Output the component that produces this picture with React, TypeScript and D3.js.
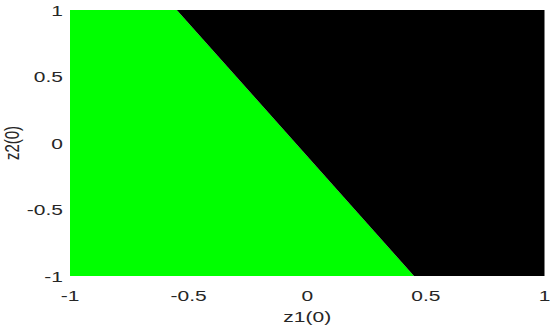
import React from "react";
import * as d3 from "d3";

const xTicks = [-1, -0.5, 0, 0.5, 1];
const yTicks = [-1, -0.5, 0, 0.5, 1];
const domainZ1 = [-1, 1];
const domainZ2 = [-1, 1];
// decision boundary endpoints (z1, z2)
const boundaryZ1 = [-0.55, 0.45];
const boundaryZ2 = [1, -1];
const xLabel = "z1(0)";
const yLabel = "z2(0)";

const W = 550;
const H = 330;
const M = { left: 70, right: 5.5, top: 10, bottom: 54 };
const SX = 1.4;
const FONT = "'Liberation Sans', Arial, sans-serif";
const TXT = "#262626";

export default function App() {
  const x = d3.scaleLinear().domain(domainZ1).range([M.left, W - M.right]);
  const y = d3.scaleLinear().domain(domainZ2).range([H - M.bottom, M.top]);
  const line = d3
    .line<[number, number]>()
    .x((d) => x(d[0]))
    .y((d) => y(d[1]));

  const greenPts: [number, number][] = [
    [domainZ1[0], domainZ2[1]],
    [boundaryZ1[0], boundaryZ2[0]],
    [boundaryZ1[1], boundaryZ2[1]],
    [domainZ1[0], domainZ2[0]],
  ];
  const blackPts: [number, number][] = [
    [boundaryZ1[0], boundaryZ2[0]],
    [domainZ1[1], domainZ2[1]],
    [domainZ1[1], domainZ2[0]],
    [boundaryZ1[1], boundaryZ2[1]],
  ];

  return (
    <svg
      width={W}
      height={H}
      style={{ position: "absolute", left: 0, top: 0, background: "#fff" }}
    >
      <path d={line(greenPts) + "Z"} fill="#00ff00" />
      <path d={line(blackPts) + "Z"} fill="#000000" />
      {xTicks.map((t) => (
        <text
          key={"x" + t}
          transform={`translate(${x(t)},${H - M.bottom + 21}) scale(${SX},1)`}
          textAnchor="middle"
          dominantBaseline="middle"
          fontFamily={FONT}
          fontSize={15}
          fill={TXT}
        >
          {String(t)}
        </text>
      ))}
      {yTicks.map((t) => (
        <text
          key={"y" + t}
          transform={`translate(${M.left - 7},${y(t) + 2}) scale(${SX},1)`}
          textAnchor="end"
          dominantBaseline="middle"
          fontFamily={FONT}
          fontSize={15}
          fill={TXT}
        >
          {String(t)}
        </text>
      ))}
      <text
        transform={`translate(${(M.left + W - M.right) / 2},${H - 8}) scale(${SX},1)`}
        textAnchor="middle"
        fontFamily={FONT}
        fontSize={15}
        fill={TXT}
      >
        {xLabel}
      </text>
      <text
        transform={`translate(${19},${(M.top + H - M.bottom) / 2}) scale(${SX},1) rotate(-90)`}
        textAnchor="middle"
        fontFamily={FONT}
        fontSize={15}
        fill={TXT}
      >
        {yLabel}
      </text>
    </svg>
  );
}
